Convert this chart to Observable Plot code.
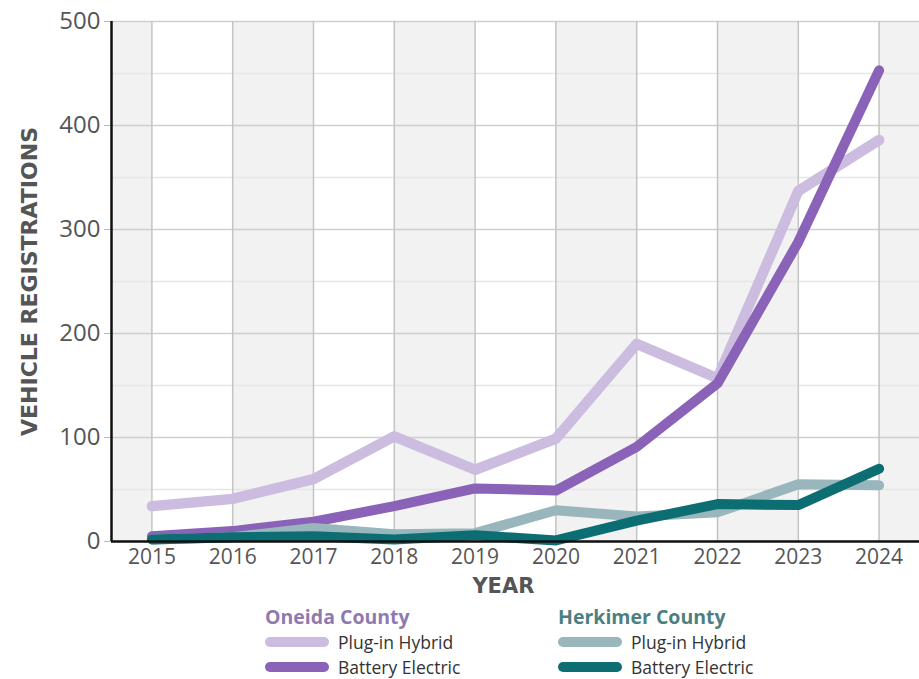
<!DOCTYPE html>
<html>
<head>
<meta charset="utf-8">
<script src="https://cdn.jsdelivr.net/npm/d3@7"></script>
<script src="https://cdn.jsdelivr.net/npm/@observablehq/plot@0.6"></script>
<style>
  body { margin: 0; background: #fff; font-family: "Open Sans", Lato, sans-serif; }
  #wrap { position: relative; width: 919px; height: 679px; }
  #legend { position: absolute; left: 0; top: 600px; width: 919px; height: 79px; }
  .grp { position: absolute; top: 5px; }
  .ttl { font-weight: 700; font-size: 19.5px; line-height: 24px; }
  .row { display: flex; align-items: center; height: 25px; font-size: 17.5px; color: #333; }
  .sw { width: 64px; height: 10px; border-radius: 5px; margin-right: 9px; }
</style>
</head>
<body>
<div id="wrap">
  <div id="chart"></div>
  <div id="legend"></div>
</div>
<script>
const years = [2015, 2016, 2017, 2018, 2019, 2020, 2021, 2022, 2023, 2024];
const oneidaPHEV   = [34, 41, 60, 101, 69, 99, 190, 157, 337, 386];
const oneidaBEV    = [5, 10, 19, 34, 51, 49, 91, 152, 288, 453];
const herkimerPHEV = [2, 4, 13, 7, 8, 30, 24, 28, 55, 54];
const herkimerBEV  = [2, 4, 5, 2, 6, 1, 20, 36, 35, 70];
const yTicks = [0, 100, 200, 300, 400, 500];
const yMinor = [50, 150, 250, 350, 450];
const bandStarts = [2014.5, 2016, 2018, 2020, 2022, 2024];
const bandEnds   = [2015, 2017, 2019, 2021, 2023, 2024.5];

const seriesDefs = [
  {county: "Oneida County", type: "Plug-in Hybrid", values: oneidaPHEV, color: "#cbbce0", width: 10.5},
  {county: "Oneida County", type: "Battery Electric", values: oneidaBEV, color: "#8a62b7", width: 10},
  {county: "Herkimer County", type: "Plug-in Hybrid", values: herkimerPHEV, color: "#98b6bb", width: 10},
  {county: "Herkimer County", type: "Battery Electric", values: herkimerBEV, color: "#0c6e73", width: 10}
];

const bands = bandStarts.map((s, i) => ({x1: s, x2: bandEnds[i]}));

const lineMarks = seriesDefs.map(s =>
  Plot.line(years.map((y, i) => ({year: y, value: s.values[i]})), {
    x: "year", y: "value", stroke: s.color, strokeWidth: s.width,
    strokeLinecap: "round", strokeLinejoin: "round"
  })
);

const chart = Plot.plot({
  width: 919,
  height: 600,
  marginLeft: 111,
  marginRight: 0,
  marginTop: 21,
  marginBottom: 59,
  style: {fontFamily: "'Open Sans', Lato, sans-serif", background: "transparent"},
  x: {domain: [2014.5, 2024.5], axis: null},
  y: {domain: [0, 500], axis: null},
  marks: [
    Plot.rectY(bands, {x1: "x1", x2: "x2", y1: 0, y2: 500, fill: "#f2f2f2"}),
    Plot.ruleY(yMinor, {stroke: "#e6e6e6", strokeWidth: 1.5}),
    Plot.ruleY(yTicks, {stroke: "#cfcfcf", strokeWidth: 1.5}),
    Plot.ruleX(years, {y1: 0, y2: 500, stroke: "#c4c4c4", strokeWidth: 1.5}),
    ...lineMarks,
    Plot.axisY(yTicks, {
      tickSize: 7, tickPadding: 4, stroke: "#bbb", fill: "#555",
      fontSize: 24, label: null, tickFormat: d => String(d)
    }),
    Plot.axisX(years, {
      tickSize: 0, tickPadding: 8, fill: "#555", fontSize: 21,
      label: null, tickFormat: d => String(d)
    }),
    Plot.ruleX([2014.5], {y1: 0, y2: 500, stroke: "#111", strokeWidth: 2.5}),
    Plot.ruleY([0], {x1: 2014.5, x2: 2024.5, stroke: "#111", strokeWidth: 2.5}),
    Plot.text(["YEAR"], {
      x: 2019.35, y: -43, fill: "#555", fontFamily: "DejaVu Sans",
      fontSize: 21, fontWeight: 700, letterSpacing: 0.5
    }),
    Plot.text(["VEHICLE REGISTRATIONS"], {
      x: 2014.5, y: 250, dx: -82, rotate: -90, textAnchor: "middle", fill: "#555",
      fontFamily: "DejaVu Sans", fontSize: 22, fontWeight: 700, letterSpacing: 0.8
    })
  ]
});
document.getElementById("chart").appendChild(chart);

// legend
const groups = [
  {county: "Oneida County", left: 265, color: "#8e7aaf"},
  {county: "Herkimer County", left: 558, color: "#4d7f81"}
];
const legend = document.getElementById("legend");
groups.forEach(g => {
  const div = document.createElement("div");
  div.className = "grp";
  div.style.left = g.left + "px";
  const t = document.createElement("div");
  t.className = "ttl";
  t.style.color = g.color;
  t.textContent = g.county;
  div.appendChild(t);
  seriesDefs.filter(s => s.county === g.county).forEach(s => {
    const r = document.createElement("div");
    r.className = "row";
    const sw = document.createElement("div");
    sw.className = "sw";
    sw.style.background = s.color;
    r.appendChild(sw);
    const lab = document.createElement("span");
    lab.textContent = s.type;
    r.appendChild(lab);
    div.appendChild(r);
  });
  legend.appendChild(div);
});
</script>
</body>
</html>
